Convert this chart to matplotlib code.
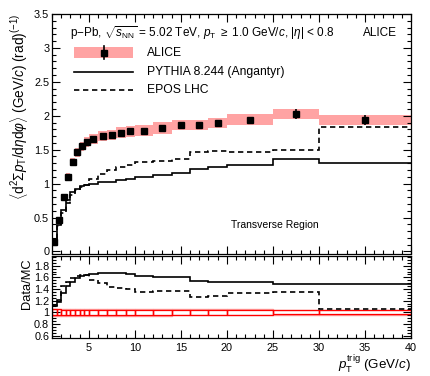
import numpy as np
import matplotlib
matplotlib.use("Agg")
import matplotlib.pyplot as plt
from matplotlib.patches import Rectangle
from matplotlib.lines import Line2D
from matplotlib.ticker import MultipleLocator

plt.rcParams['font.family'] = ['Liberation Sans', 'DejaVu Sans']
plt.rcParams['mathtext.fontset'] = 'custom'
plt.rcParams['mathtext.rm'] = 'Liberation Sans'
plt.rcParams['mathtext.it'] = 'Liberation Sans:italic'
plt.rcParams['mathtext.bf'] = 'Liberation Sans:bold'
plt.rcParams['mathtext.sf'] = 'Liberation Sans'

# ---------------- data ----------------
bin_edges = [1, 1.5, 2, 2.5, 3, 3.5, 4, 4.5, 5, 6, 7, 8, 9, 10, 12, 14, 16, 18, 20, 25, 30, 40]
alice = [0.14, 0.46, 0.81, 1.10, 1.32, 1.46, 1.55, 1.61, 1.66, 1.70, 1.72,
         1.75, 1.77, 1.78, 1.82, 1.86, 1.86, 1.89, 1.94, 2.03, 1.94]
alice_stat = [0.01, 0.01, 0.01, 0.01, 0.01, 0.01, 0.01, 0.01, 0.01, 0.01, 0.01,
              0.01, 0.01, 0.01, 0.015, 0.015, 0.02, 0.02, 0.03, 0.075, 0.07]
alice_relsys = [0.05, 0.05, 0.045, 0.045, 0.045, 0.045, 0.045, 0.045, 0.045, 0.045, 0.045,
                0.045, 0.045, 0.045, 0.045, 0.04, 0.04, 0.04, 0.042, 0.035, 0.036]
pythia = [0.127, 0.39, 0.61, 0.76, 0.87, 0.92, 0.96, 0.98, 1.00, 1.02, 1.03,
          1.05, 1.07, 1.10, 1.13, 1.16, 1.21, 1.24, 1.27, 1.36, 1.31]
epos = [0.124, 0.38, 0.56, 0.72, 0.835, 0.90, 0.945, 0.98, 1.07, 1.135, 1.20,
        1.24, 1.27, 1.32, 1.335, 1.36, 1.465, 1.475, 1.46, 1.50, 1.835]

edges = np.array(bin_edges)
centers = 0.5 * (edges[:-1] + edges[1:])
widths = np.diff(edges)
a = np.array(alice)
sys_abs = a * np.array(alice_relsys)

# ---------------- figure ----------------
W, H = 431, 376
fig = plt.figure(figsize=(W / 100, H / 100), dpi=100)
L = 52 / W
AW = (411 - 52) / W
ax1 = fig.add_axes([L, 1 - 253.5 / H, AW, (253.5 - 14) / H])
ax2 = fig.add_axes([L, 1 - 338 / H, AW, (338 - 255.5) / H])

RED_BAND = '#ffa3a3'
DASH = (0, (3.2, 2.2))

# top panel
ax1.bar(centers, 2 * sys_abs, width=widths, bottom=a - sys_abs,
        color=RED_BAND, edgecolor='none', zorder=1)
ax1.stairs(pythia, edges, baseline=None, color='black', lw=1.2, zorder=2)
ax1.stairs(epos, edges, baseline=None, color='black', lw=1.2,
           linestyle=DASH, zorder=2)
ax1.errorbar(centers, a, yerr=alice_stat, fmt='s', color='black', ms=4.3,
             elinewidth=1.2, capsize=0, zorder=3)

ax1.set_xlim(1, 40)
ax1.set_ylim(-0.03, 3.5)
ax1.yaxis.set_minor_locator(MultipleLocator(0.1))
ax1.xaxis.set_major_locator(MultipleLocator(5))
ax1.xaxis.set_minor_locator(MultipleLocator(1))
ax1.set_yticks([0, 0.5, 1, 1.5, 2, 2.5, 3, 3.5])
ax1.set_yticklabels(['0', '0.5', '1', '1.5', '2', '2.5', '3', '3.5'])
ax1.tick_params(axis='x', labelbottom=False)

ax1.set_ylabel(r'$\langle\mathrm{d}^{2}\Sigma p_{\mathrm{T}}/\mathrm{d}\eta\mathrm{d}\varphi\rangle$ (GeV/$c$) (rad)$^{(-1)}$',
               fontsize=9.8, loc='top')
ax1.yaxis.set_label_coords(-0.06, 1.0)

# header texts
ax1.text(0.05, 0.92, r'p$-$Pb, $\sqrt{s_{\mathrm{NN}}}$ = 5.02 TeV, $p_{\mathrm{T}}$ $\geq$ 1.0 GeV/$c$, |$\eta$| < 0.8',
         transform=ax1.transAxes, fontsize=8.5, va='center', ha='left')
ax1.text(0.96, 0.92, 'ALICE', transform=ax1.transAxes, fontsize=8.5, va='center', ha='right')

# legend (manual)
ax1.add_patch(Rectangle((0.061, 0.816), 0.165, 0.046, transform=ax1.transAxes,
                        facecolor=RED_BAND, edgecolor='none'))
ax1.add_line(Line2D([0.1435, 0.1435], [0.812, 0.866], transform=ax1.transAxes,
                    color='black', lw=1.2))
ax1.add_line(Line2D([0.1435], [0.839], transform=ax1.transAxes, marker='s',
                    color='black', ms=4.3))
ax1.text(0.265, 0.839, 'ALICE', transform=ax1.transAxes, fontsize=8.7, va='center')
ax1.add_line(Line2D([0.061, 0.226], [0.759, 0.759], transform=ax1.transAxes,
                    color='black', lw=1.2))
ax1.text(0.265, 0.759, 'PYTHIA 8.244 (Angantyr)', transform=ax1.transAxes,
         fontsize=8.7, va='center')
ax1.add_line(Line2D([0.061, 0.226], [0.683, 0.683], transform=ax1.transAxes,
                    color='black', lw=1.2, linestyle=DASH))
ax1.text(0.265, 0.683, 'EPOS LHC', transform=ax1.transAxes, fontsize=8.7, va='center')

ax1.text(0.62, 0.121, 'Transverse Region', transform=ax1.transAxes, fontsize=7.5,
         va='center', ha='center')

# bottom panel: ratio
for lo, w, rs in zip(edges[:-1], widths, alice_relsys):
    ax2.add_patch(Rectangle((lo, 1 - rs - 0.01), w, 2 * rs + 0.02,
                            facecolor='none', edgecolor='#ff9a9a', lw=1.0, zorder=1))
    ax2.add_patch(Rectangle((lo, 1 - rs), w, 2 * rs,
                            facecolor='none', edgecolor='red', lw=0.9, zorder=2))
ax2.stairs(a / np.array(pythia), edges, baseline=None, color='black', lw=1.2, zorder=3)
ax2.stairs(a / np.array(epos), edges, baseline=None, color='black', lw=1.2,
           linestyle=DASH, zorder=3)

ax2.set_xlim(1, 40)
ax2.set_ylim(0.559, 1.975)
ax2.set_yticks([0.6, 0.8, 1.0, 1.2, 1.4, 1.6, 1.8])
ax2.set_yticklabels(['0.6', '0.8', '1', '1.2', '1.4', '1.6', '1.8'])
ax2.yaxis.set_minor_locator(MultipleLocator(0.05))
ax2.set_xticks([5, 10, 15, 20, 25, 30, 35, 40])
ax2.xaxis.set_minor_locator(MultipleLocator(1))
ax2.set_ylabel('Data/MC', fontsize=9.3, loc='top')
ax2.yaxis.set_label_coords(-0.052, 0.97)
ax2.set_xlabel(r'$p_{\mathrm{T}}^{\mathrm{trig}}$ (GeV/$c$)', fontsize=9.6, loc='right')
ax2.xaxis.set_label_coords(1.0, -0.18)

for ax in (ax1, ax2):
    ax.tick_params(which='both', direction='in', top=True, right=True, labelsize=7.8,
                   width=0.8, pad=2)
    ax.tick_params(which='major', length=6)
    ax.tick_params(which='minor', length=3)
    for s in ax.spines.values():
        s.set_linewidth(0.9)
ax2.tick_params(axis='x', pad=3.5)

fig.savefig('out.png', dpi=100)
